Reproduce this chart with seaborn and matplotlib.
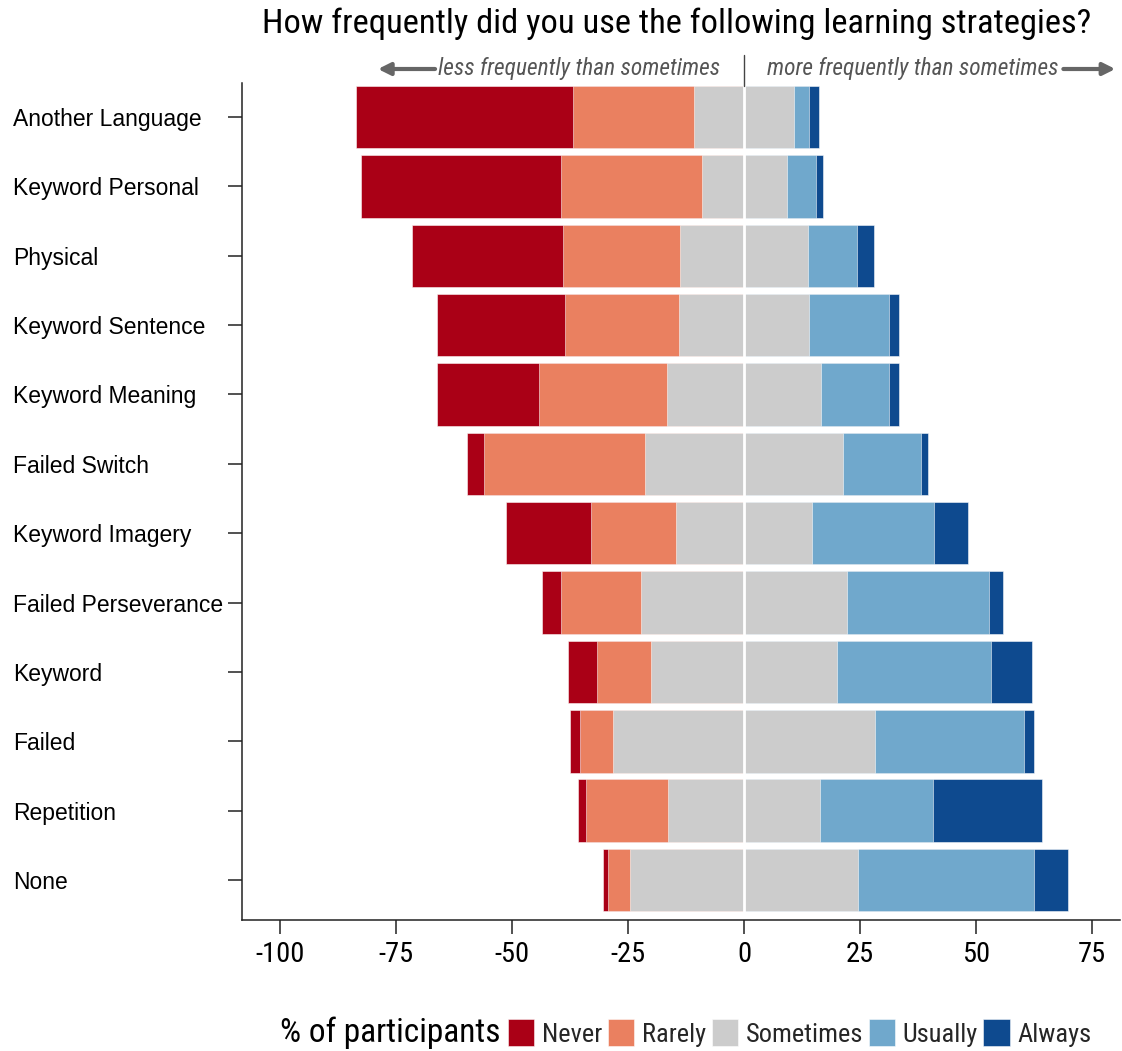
import numpy as np
import matplotlib
matplotlib.use('Agg')
import matplotlib.pyplot as plt
import matplotlib.transforms as mtransforms
from matplotlib import font_manager
from matplotlib.patches import Patch
import seaborn as sns

strategies = ['Another Language', 'Keyword Personal', 'Physical', 'Keyword Sentence',
              'Keyword Meaning', 'Failed Switch', 'Keyword Imagery', 'Failed Perseverance',
              'Keyword', 'Failed', 'Repetition', 'None']
levels = ['Never', 'Rarely', 'Sometimes', 'Usually', 'Always']

# % of participants per answer
never     = [46.7, 43.0, 32.7, 27.7, 22.0, 3.7, 18.4, 4.2, 6.3, 2.2, 1.7, 1.1]
rarely    = [26.1, 30.4, 25.2, 24.6, 27.7, 34.6, 18.3, 17.2, 11.6, 7.2, 17.8, 4.8]
sometimes = [21.6, 18.3, 27.5, 27.9, 33.1, 42.8, 29.3, 44.5, 40.2, 56.4, 32.6, 49.0]
usually   = [3.2, 6.3, 10.6, 17.2, 14.7, 16.7, 26.2, 30.5, 33.0, 32.2, 24.3, 37.9]
always    = [2.1, 1.6, 3.7, 2.2, 2.2, 1.6, 7.3, 3.1, 8.9, 2.1, 23.7, 7.4]

colors = ['#AA0016', '#EA8060', '#CCCCCC', '#70A8CC', '#0E4A8F']

sns.set_theme(style='ticks')
# condensed face for title, ticks, legend (falls back to Liberation Sans)
installed = {f.name for f in font_manager.fontManager.ttflist}
cond = next((n for n in ['Roboto Condensed', 'Archivo Narrow', 'PT Sans Narrow']
             if n in installed), 'Liberation Sans')
plt.rcParams['font.family'] = [cond, 'DejaVu Sans']
plt.rcParams['axes.unicode_minus'] = False

half = np.array(sometimes) / 2
right_s = half
right_u = half + np.array(usually)
right_a = right_u + np.array(always)
left_s = -half
left_r = -(half + np.array(rarely))
left_n = left_r - np.array(never)

fig = plt.figure(figsize=(11.22, 10.51), dpi=100)
ax = fig.add_axes([0.2157, 0.1246, 0.7825, 0.7964])

edge = (1, 1, 1, 0.6)
# widest first so the shorter segments stack on top
for vals, col in [(right_a, colors[4]), (right_u, colors[3]), (right_s, colors[2]),
                  (left_n, colors[0]), (left_r, colors[1]), (left_s, colors[2])]:
    sns.barplot(x=vals, y=strategies, orient='h', color=col, saturation=1,
                width=0.9, edgecolor=edge, linewidth=0.6, ax=ax)

ax.axvline(0, color='white', lw=2)

ax.set_xlim(-108.2, 81)
ax.set_ylim(11.577, -0.49)
ax.set_xticks([-100, -75, -50, -25, 0, 25, 50, 75])
ax.set_xlabel('')
ax.set_ylabel('')
sns.despine(ax=ax)
for s in ['left', 'bottom']:
    ax.spines[s].set_color('#222222')
    ax.spines[s].set_linewidth(1.1)
ax.tick_params(axis='both', length=10, width=1.1, color='#222222', labelcolor='black')
ax.tick_params(axis='x', labelsize=20.5, pad=5)
ax.tick_params(axis='y', labelsize=16.5, pad=155)
for lab in ax.get_yticklabels():
    lab.set_ha('left')
    lab.set_family(['Liberation Sans', 'DejaVu Sans'])

fig.text(0.603, 0.977, 'How frequently did you use the following learning strategies?',
         ha='center', va='center', fontsize=24.8, color='black')
blend = mtransforms.blended_transform_factory(ax.transData, fig.transFigure)
hint_y = 1 - 69 / 1051
ax.text(-5.2, hint_y, 'less frequently than sometimes', transform=blend, ha='right',
        va='center', fontsize=16.8, style='italic', color='#555555')
ax.text(5.0, hint_y, 'more frequently than sometimes', transform=blend, ha='left',
        va='center', fontsize=16.8, style='italic', color='#555555')
for tail, head in [(-66.6, -78.9), (68.8, 80.0)]:
    ax.annotate('', xy=(head, hint_y), xytext=(tail, hint_y), xycoords=blend,
                textcoords=blend, annotation_clip=False,
                arrowprops=dict(arrowstyle='-|>', color='#666666', lw=3,
                                mutation_scale=18, shrinkA=0, shrinkB=0))
ax.plot([0, 0], [1 - 55 / 1051, 1 - 86 / 1051], transform=blend, color='#444444',
        lw=1, clip_on=False)

handles = [Patch(facecolor=c, edgecolor=edge, linewidth=0.6) for c in colors]
fig.legend(handles, levels, loc='center left', bbox_to_anchor=(508 / 1122, 1 - 1033 / 1051),
           ncol=5, frameon=False, fontsize=19, handlelength=1.0, handleheight=1.2,
           handletextpad=0.3, columnspacing=0.2, borderaxespad=0, borderpad=0)
fig.text(500 / 1122, 1 - 1033 / 1051, '% of participants', ha='right', va='center',
         fontsize=24, color='black')

fig.savefig('out.png', dpi=100)
